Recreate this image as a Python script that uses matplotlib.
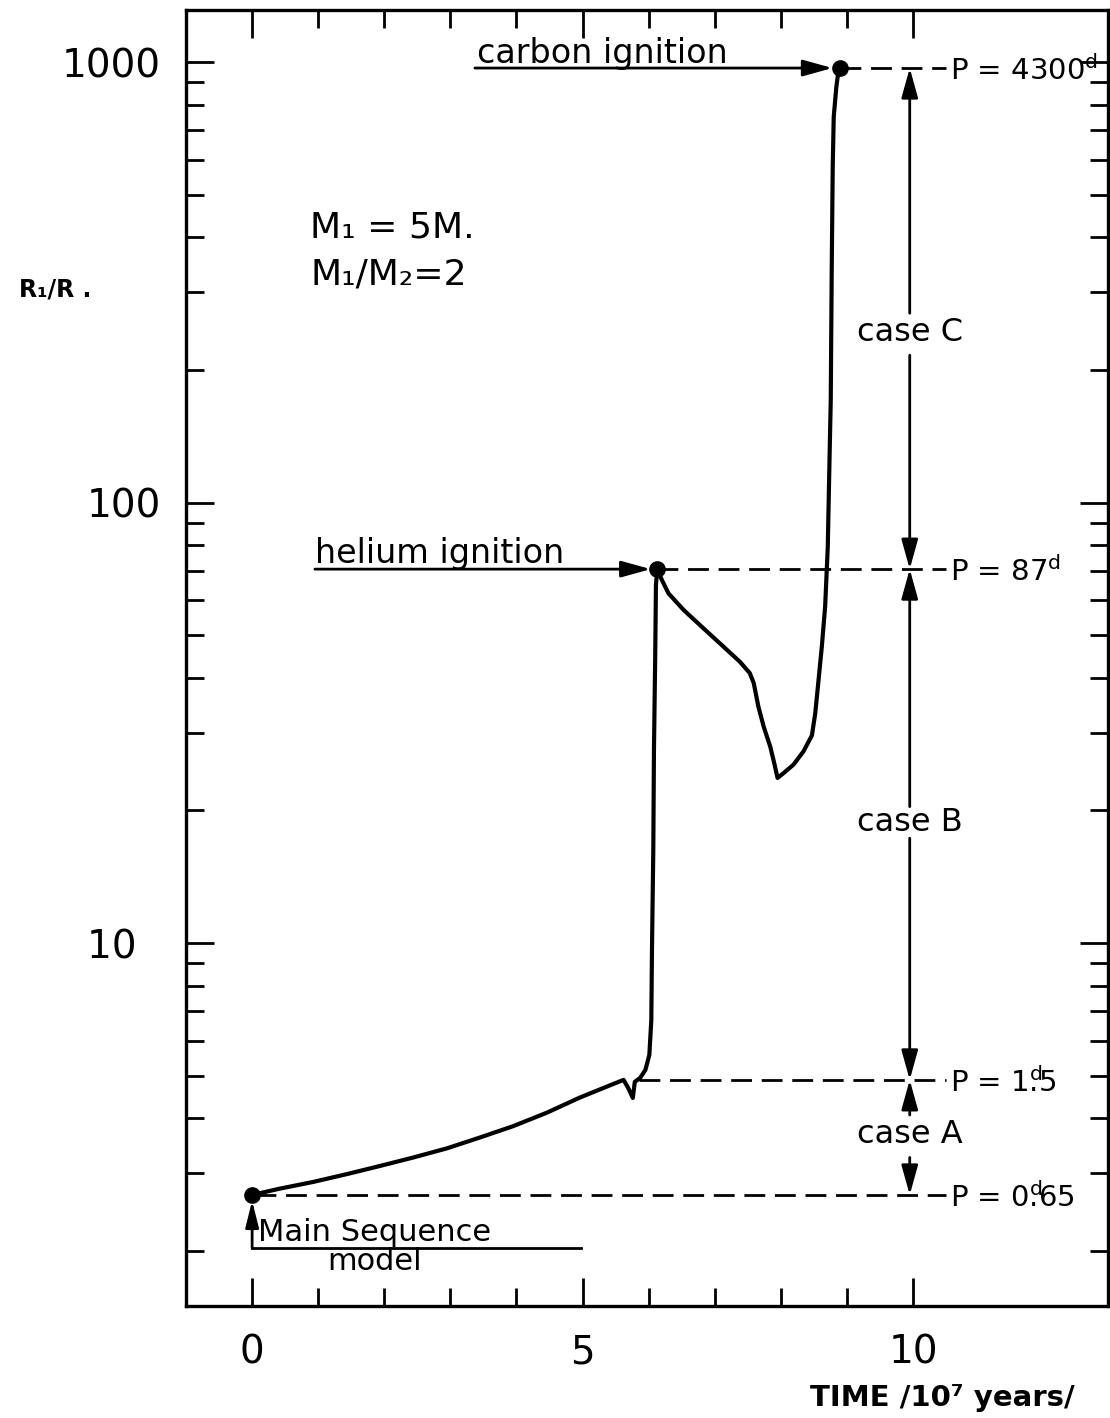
import matplotlib
matplotlib.use('Agg')
import matplotlib.pyplot as plt

plt.rcParams['font.family'] = ['DejaVu Sans']
plt.rcParams['mathtext.fontset'] = 'dejavusans'

# ---- data ----
time = [0.00, 0.42, 0.93, 1.44, 1.94, 2.44, 2.95, 3.45, 3.95, 4.46, 4.96, 5.47, 5.62,
        5.69, 5.76, 5.79, 5.87, 5.95, 6.01, 6.04, 6.05, 6.07, 6.08, 6.10, 6.11, 6.13,
        6.20, 6.30, 6.53, 6.83, 7.13, 7.38, 7.53, 7.59, 7.66, 7.74, 7.84, 7.90, 7.95,
        8.04, 8.19, 8.34, 8.47, 8.52, 8.57, 8.62, 8.67, 8.71, 8.73, 8.755, 8.77,
        8.785, 8.80, 8.84, 8.87, 8.90]
radius = [2.68, 2.77, 2.87, 2.99, 3.12, 3.26, 3.42, 3.62, 3.84, 4.12, 4.46, 4.79, 4.89,
          4.69, 4.45, 4.84, 4.94, 5.15, 5.57, 6.69, 9.64, 16.3, 27.4, 46.2, 65.0, 70.6,
          66.7, 62.2, 57.0, 51.8, 47.1, 43.5, 41.0, 38.9, 34.4, 31.0, 27.9, 25.6, 23.7,
          24.3, 25.4, 27.2, 29.6, 33.2, 39.5, 47.1, 58.0, 79.4, 112.5, 171.0, 343.0,
          578.0, 751.0, 879.0, 951.0, 969.0]

event_time = [0.00, 6.13, 8.90]          # main sequence, helium ignition, carbon ignition
event_radius = [2.68, 70.6, 969.0]

period_radius = [969.0, 70.6, 4.89, 2.68]
period_labels = [r'P = 4300$^{\mathrm{d}}$',
                 r'P = 87$^{\mathrm{d}}$',
                 r'P = 1$^{\mathrm{d}}\!\!\!$.5',
                 r'P = 0$^{\mathrm{d}}\!\!\!$.65']
period_start = [8.90, 6.13, 5.85, 0.05]

case_names = ['case C', 'case B', 'case A']
case_text_y = [243.0, 18.8, 3.67]
case_seg_top = [269.0, 20.4, 4.07]
case_seg_bot = [216.0, 17.3, 3.26]
case_upper = [969.0, 70.6, 4.89]
case_lower = [70.6, 4.89, 2.68]

x_major = [0, 5, 10]
x_labels = ['0', '5', '10']
x_minor = [1, 2, 3, 4, 6, 7, 8, 9]
y_major = [10, 100, 1000]
y_labels = ['10\u2007', '100', '1000']
y_minor = [2, 3, 4, 5, 6, 7, 8, 9, 20, 30, 40, 50, 60, 70, 80, 90,
           200, 300, 400, 500, 600, 700, 800, 900]

fig = plt.figure(figsize=(11.1, 14.18), dpi=100)
ax = fig.add_axes([0.1676, 0.079, 0.8306, 0.914])
ax.set_yscale('log')
ax.set_xlim(-1.0, 12.95)
ax.set_ylim(1.50, 1313)

for s in ax.spines.values():
    s.set_linewidth(2.4)

ax.set_xticks(x_major)
ax.set_xticklabels(x_labels)
ax.set_xticks(x_minor, minor=True)
ax.set_yticks(y_major)
ax.set_yticklabels(y_labels)
ax.set_yticks(y_minor, minor=True)
ax.set_yticklabels([], minor=True)
ax.tick_params(axis='x', which='both', direction='in', top=True, bottom=True,
               width=2, labelsize=28, pad=20)
ax.tick_params(axis='y', which='both', direction='in', left=True, right=True,
               width=2, labelsize=28, pad=18)
ax.tick_params(which='major', length=20)
ax.tick_params(which='minor', length=13)

# evolutionary track
ax.plot(time, radius, color='black', lw=3.0, solid_capstyle='round', solid_joinstyle='round')
ax.plot(event_time, event_radius, 'o', color='black', ms=11)

dash = (0, (7.5, 3.5))
for r, x0 in zip(period_radius, period_start):
    ax.plot([x0, 10.5], [r, r], color='black', lw=2.0, linestyle=dash)

# period labels
for r, lab in zip(period_radius, period_labels):
    ax.text(10.56, r, lab, fontsize=21, va='center_baseline', ha='left')

arrow_kw = dict(arrowstyle='-|>,head_length=0.9,head_width=0.25', color='black',
                lw=2.0, shrinkA=0, shrinkB=0, mutation_scale=20)

# case arrows
xc = 9.95
for name, ty, st, sb, up, lo in zip(case_names, case_text_y, case_seg_top,
                                     case_seg_bot, case_upper, case_lower):
    ax.annotate('', xy=(xc, up), xytext=(xc, st), arrowprops=arrow_kw)
    ax.annotate('', xy=(xc, lo), xytext=(xc, sb), arrowprops=arrow_kw)
    ax.text(xc, ty, name, fontsize=23, ha='center', va='center')

# ignition arrows
ax.annotate('', xy=(8.78, 969.0), xytext=(3.37, 969.0), arrowprops=arrow_kw)
ax.text(3.40, 1045, 'carbon ignition', fontsize=24, ha='left', va='center')
ax.annotate('', xy=(6.03, 70.6), xytext=(0.95, 70.6), arrowprops=arrow_kw)
ax.text(0.95, 76.5, 'helium ignition', fontsize=24, ha='left', va='center')

# main sequence label
ax.annotate('', xy=(0.0, 2.6), xytext=(0.0, 2.03),
            arrowprops=dict(arrow_kw, arrowstyle='-|>,head_length=0.8,head_width=0.2'))
ax.plot([0.0, 4.97], [2.03, 2.03], color='black', lw=2.0)
ax.text(0.09, 2.20, 'Main Sequence', fontsize=22, ha='left', va='center')
ax.text(1.86, 1.89, 'model', fontsize=22, ha='center', va='center')

# parameters
ax.text(0.88, 420, 'M\u2081 = 5M.', fontsize=26, ha='left', va='center')
ax.text(0.88, 330, 'M\u2081/M\u2082=2', fontsize=26, ha='left', va='center')

ax.set_ylabel('R\u2081/R .', rotation=0, fontsize=17, fontweight='bold', va='center')
ax.yaxis.set_label_coords(-0.142, 0.784)
ax.set_xlabel('TIME /10\u2077 years/', fontsize=21, fontweight='bold', va='center')
ax.xaxis.set_label_coords(0.82, -0.071)

fig.savefig('out.png', dpi=100)
